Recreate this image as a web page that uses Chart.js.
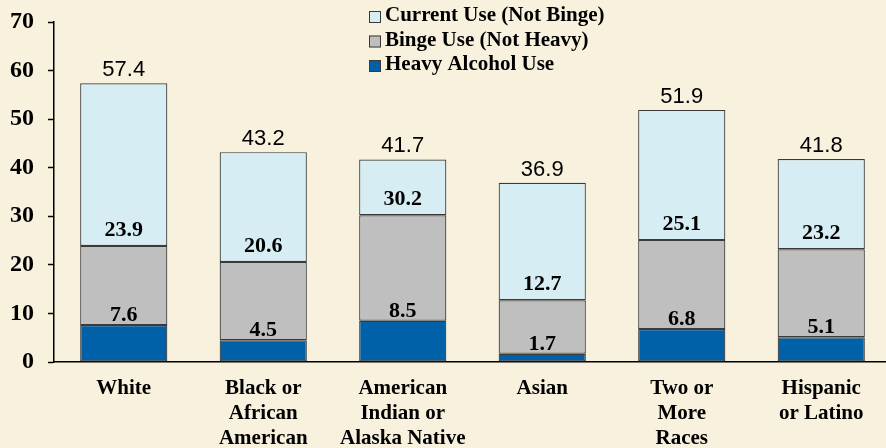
<!DOCTYPE html>
<html>
<head>
<meta charset="utf-8">
<script src="https://cdn.jsdelivr.net/npm/chart.js@4.4.1/dist/chart.umd.min.js"></script>
<style>
  html, body { margin: 0; padding: 0; background: #f8f1de; overflow: hidden; }
  #wrap { width: 892px; height: 448px; }
</style>
</head>
<body>
<div id="wrap"><canvas id="graph"></canvas></div>
<script>
const groups = [
    "White",
    ["Black or", "African", "American"],
    ["American", "Indian or", "Alaska Native"],
    "Asian",
    ["Two or", "More", "Races"],
    ["Hispanic", "or Latino"],
]
// percentages, each one includes the categories below it
const heavyUse = [7.6, 4.5, 8.5, 1.7, 6.8, 5.1]
const bingeUse = [23.9, 20.6, 30.2, 12.7, 25.1, 23.2]
const currentUse = [57.4, 43.2, 41.7, 36.9, 51.9, 41.8]
const yTicks = [0, 10, 20, 30, 40, 50, 60, 70]

const legendNames = ["Current Use (Not Binge)", "Binge Use (Not Heavy)", "Heavy Alcohol Use"]
const blue = "#0060a8"
const gray = "#bfbfbf"
const lightBlue = "#d6edf3"
const edge = "#3a3a3a"
const serif = "'Liberation Serif', 'Times New Roman', serif"

const bingeOnly = bingeUse.map((v, i) => +(v - heavyUse[i]).toFixed(1))
const currentOnly = currentUse.map((v, i) => +(v - bingeUse[i]).toFixed(1))

const labelPlugin = {
    id: "labels",
    afterDatasetsDraw(chart) {
        const ctx = chart.ctx
        const shown = [heavyUse, bingeUse, currentUse]
        const lift = [4, 10, 7]
        ctx.save()
        ctx.textAlign = "center"
        ctx.textBaseline = "alphabetic"
        ctx.fillStyle = "#000"
        shown.forEach((vals, d) => {
            const meta = chart.getDatasetMeta(d)
            ctx.font = d == 2 ? "22px 'Liberation Sans', Arial, sans-serif" : "bold 22px " + serif
            meta.data.forEach((bar, i) => {
                ctx.fillText(vals[i].toFixed(1), bar.x, bar.y - lift[d])
            })
        })

        // legend box, top to bottom
        const colors = [lightBlue, gray, blue]
        ctx.textAlign = "left"
        ctx.textBaseline = "middle"
        ctx.font = "bold 21px " + serif
        legendNames.forEach((name, i) => {
            const y = 16 + i * 24.5
            ctx.fillStyle = colors[i]
            ctx.fillRect(369, y - 5, 12, 12)
            ctx.strokeStyle = edge
            ctx.lineWidth = 1
            ctx.strokeRect(369.5, y - 4.5, 11, 11)
            ctx.fillStyle = "#000"
            ctx.fillText(name, 385, y)
        })
        ctx.restore()
    },
}

const ctx = document.getElementById("graph").getContext("2d")
const graphic = new Chart(ctx, {
    type: "bar",
    data: {
        labels: groups,
        datasets: [
            { label: legendNames[2], data: heavyUse, backgroundColor: blue },
            { label: legendNames[1], data: bingeOnly, backgroundColor: gray },
            { label: legendNames[0], data: currentOnly, backgroundColor: lightBlue },
        ].map((ds) => ({
            ...ds,
            borderColor: edge,
            borderWidth: 1.2,
            borderSkipped: false,
            barPercentage: 0.625,
            categoryPercentage: 1,
        })),
    },
    options: {
        responsive: true,
        maintainAspectRatio: false,
        animation: false,
        layout: { padding: { top: 22, right: 1, left: 0, bottom: 0 } },
        plugins: {
            legend: { display: false },
            tooltip: { enabled: false },
        },
        scales: {
            x: {
                stacked: true,
                grid: { display: false },
                border: { color: "#000", width: 1.5 },
                ticks: {
                    color: "#000",
                    padding: 6,
                    maxRotation: 0,
                    autoSkip: false,
                    font: { family: serif, size: 21, weight: "bold", lineHeight: 1.19 },
                },
                afterFit(scale) {
                    scale.height = 86
                    scale.paddingLeft = 0
                    scale.paddingRight = 0
                },
            },
            y: {
                stacked: true,
                min: 0,
                max: 70,
                afterBuildTicks(scale) {
                    scale.ticks = yTicks.map((v) => ({ value: v }))
                },
                grid: { drawOnChartArea: false, tickLength: 6, tickColor: "#000", tickWidth: 1.5 },
                border: { color: "#000", width: 1.5 },
                ticks: {
                    color: "#000",
                    padding: 14,
                    font: { family: serif, size: 24, weight: "bold" },
                },
                afterFit(scale) {
                    scale.width = 54
                    scale.paddingTop = 0
                    scale.paddingBottom = 0
                },
            },
        },
    },
    plugins: [labelPlugin],
})
</script>
</body>
</html>
